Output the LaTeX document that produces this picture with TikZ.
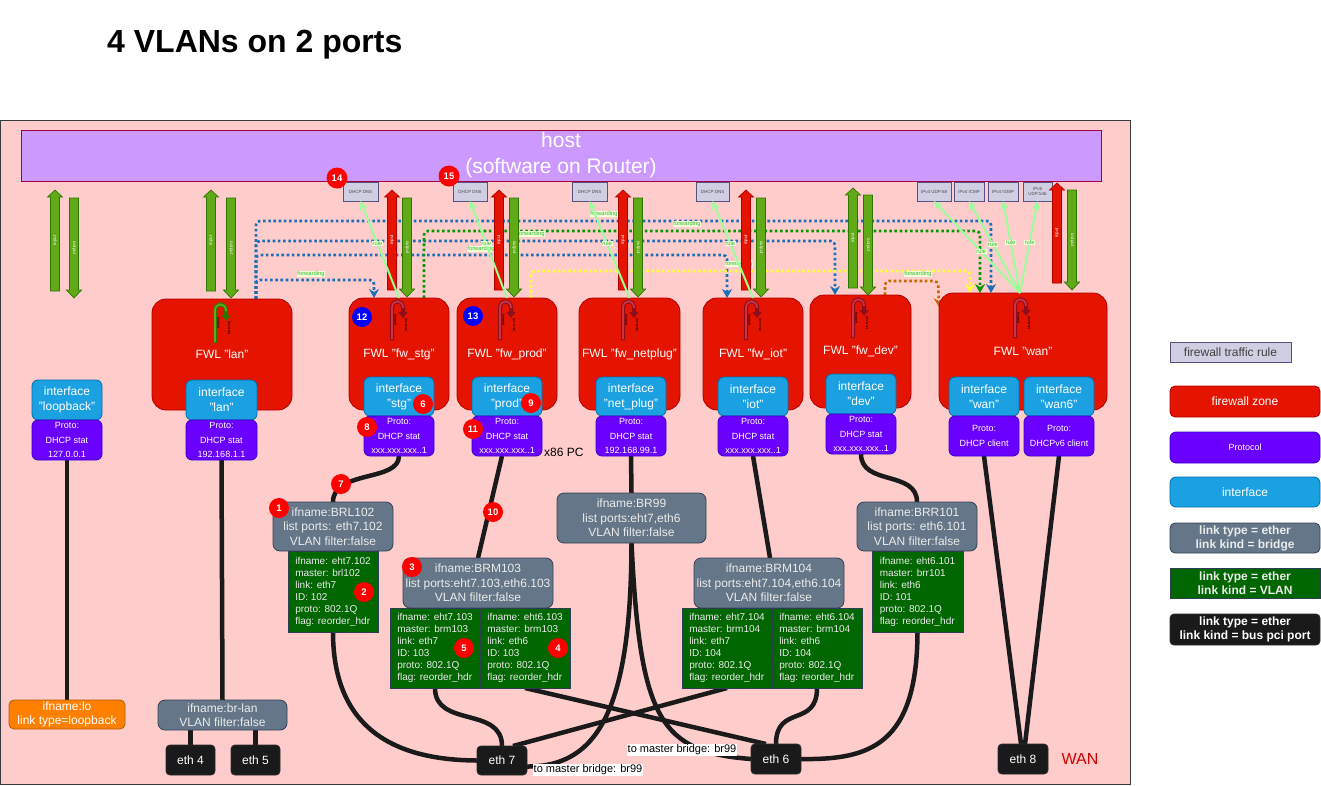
\documentclass[tikz,border=0pt]{standalone}
\usepackage{fontspec}
\setmainfont{Liberation Sans}
\usetikzlibrary{arrows.meta}
\pgfdeclarelayer{back}
\pgfdeclarelayer{bg}
\pgfsetlayers{back,bg,main}
\definecolor{bgpink}{HTML}{FFCCCC}
\definecolor{bgdraw}{HTML}{36393D}
\definecolor{hostfill}{HTML}{CC99FF}
\definecolor{hostdraw}{HTML}{A50040}
\definecolor{zonefill}{HTML}{E51400}
\definecolor{zonedraw}{HTML}{B20000}
\definecolor{iffill}{HTML}{1BA1E2}
\definecolor{ifdraw}{HTML}{006EAF}
\definecolor{prfill}{HTML}{6A00FF}
\definecolor{prdraw}{HTML}{3700CC}
\definecolor{brfill}{HTML}{647687}
\definecolor{brdraw}{HTML}{314354}
\definecolor{vlfill}{HTML}{006600}
\definecolor{vldraw}{HTML}{2D3E50}
\definecolor{ptfill}{HTML}{1A1A1A}
\definecolor{ptdraw}{HTML}{2B2B2B}
\definecolor{lofill}{HTML}{FF8000}
\definecolor{lodraw}{HTML}{B35900}
\definecolor{rbfill}{HTML}{D0CEE2}
\definecolor{rbdraw}{HTML}{56517E}
\definecolor{rbtext}{HTML}{4D4D4D}
\definecolor{badgered}{HTML}{FF0000}
\definecolor{badgeblue}{HTML}{0000FF}
\definecolor{lblfill}{HTML}{F2FFD9}
\definecolor{lbltext}{HTML}{33B833}
\definecolor{connblk}{HTML}{1A1A1A}
\definecolor{dblue}{HTML}{1A6FB5}
\definecolor{dgreen}{HTML}{009900}
\definecolor{dyellow}{HTML}{FFFF33}
\definecolor{dorange}{HTML}{CC6600}
\definecolor{rulegreen}{HTML}{99FF99}
\definecolor{gfill}{HTML}{60A917}
\definecolor{gdraw}{HTML}{2D7600}
\definecolor{rfill}{HTML}{E51400}
\definecolor{rdraw}{HTML}{B20000}
\definecolor{wanred}{HTML}{CC0000}
\definecolor{loopout}{HTML}{8C0F1F}
\definecolor{loopin}{HTML}{CC3345}
\tikzset{
 bx/.style={draw, line width=0.8pt, inner sep=0pt, outer sep=0pt, align=center, text=white},
 zone/.style={bx, fill=zonefill, draw=zonedraw, rounded corners=14pt, font=\fontsize{12}{14}\selectfont},
 iface/.style={bx, fill=iffill, draw=ifdraw, rounded corners=6pt, font=\fontsize{12}{15}\selectfont},
 proto/.style={bx, fill=prfill, draw=prdraw, rounded corners=6pt, font=\fontsize{9}{14.5}\selectfont},
 bridge/.style={bx, fill=brfill, draw=brdraw, rounded corners=7pt, text=white!92!black, font=\fontsize{12}{14.5}\selectfont},
 vlan/.style={bx, align=left, fill=vlfill, draw=vldraw, text=white!92!black, font=\fontsize{10}{12}\selectfont},
 port/.style={bx, fill=ptfill, draw=ptdraw, rounded corners=4pt, font=\fontsize{12}{14}\selectfont},
 loopb/.style={bx, fill=lofill, draw=lodraw, rounded corners=5pt, font=\fontsize{12}{15}\selectfont},
 hostbox/.style={bx, fill=hostfill, draw=hostdraw, font=\fontsize{21}{26}\selectfont},
 rulebox/.style={bx, fill=rbfill, draw=rbdraw, line width=1pt, text=rbtext, font=\fontsize{4.5}{5}\selectfont},
 badge/.style={circle, fill=badgered, text=white, inner sep=0pt, minimum size=21pt, font=\bfseries\fontsize{9.5}{10}\selectfont},
 bbadge/.style={badge, fill=badgeblue, minimum size=20pt},
 flabel/.style={fill=lblfill, text=lbltext, inner sep=0.6pt, font=\fontsize{5.8}{6}\selectfont},
 iolbl/.style={text=white, inner sep=0pt, font=\fontsize{4.5}{5}\selectfont},
 conn/.style={line width=4.5pt, draw=connblk},
 dotl/.style={line width=2.6pt, dash pattern=on 2.6pt off 2.6pt, rounded corners=4pt, -{Stealth[length=9pt,width=10pt,inset=3pt]}},
 ruleln/.style={line width=2pt, draw=rulegreen, -{Stealth[length=9pt,width=8pt]}},
 mblabel/.style={fill=white, text=black, inner sep=0.5pt, font=\fontsize{11}{12}\selectfont},
 looptxt/.style={text=black, inner sep=0pt, font=\fontsize{3.5}{4}\selectfont},
}
\newcommand\mkbox[7]{\node[#1, minimum width={#5-#3}, minimum height={#6-#4}] (#2) at ({(#3+#5)/2},{(#4+#6)/2}) {#7};}
\newcommand\blkup[6]{\draw[fill=#4, draw=#5, line width=0.7pt] ({#1-4.5},#3) -- ({#1-4.5},{#2+7}) -- ({#1-7.5},{#2+7}) -- (#1,#2) -- ({#1+7.5},{#2+7}) -- ({#1+4.5},{#2+7}) -- ({#1+4.5},#3) -- cycle;
 \node[iolbl, rotate=90] (#6) at (#1,{(#2+#3)/2}) {input};}
\newcommand\blkdn[6]{\draw[fill=#4, draw=#5, line width=0.7pt] ({#1-4.5},#2) -- ({#1-4.5},{#3-8}) -- ({#1-7.5},{#3-8}) -- (#1,#3) -- ({#1+7.5},{#3-8}) -- ({#1+4.5},{#3-8}) -- ({#1+4.5},#2) -- cycle;
 \node[iolbl, rotate=-90] (#6) at (#1,{(#2+#3)/2}) {output};}
\newcommand\fwdloop[5]{%
 \draw[line width=4pt, draw=#3, -{Triangle[length=6pt,width=9pt]}] ({#1-6},{#2+42}) -- ({#1-6},{#2+10}) .. controls ({#1-6},{#2+1}) and ({#1+5},{#2+1}) .. ({#1+5},{#2+10}) -- ({#1+5},{#2+20});
 \draw[line width=1.8pt, draw=#4] ({#1-6},{#2+41}) -- ({#1-6},{#2+10}) .. controls ({#1-6},{#2+1}) and ({#1+5},{#2+1}) .. ({#1+5},{#2+10});
 \node[looptxt, rotate=-90] (#5f) at ({#1-2.5},{#2+22}) {forward};
 \node[looptxt, rotate=-90] (#5r) at ({#1+8},{#2+27}) {(reverse)};}
\begin{document}
\begin{tikzpicture}[x=1pt,y=-1pt]
\useasboundingbox (0,0) rectangle (1321,785);
\begin{pgfonlayer}{back}
\fill[white] (0,0) rectangle (1321,785);
\draw[fill=bgpink, draw=bgdraw, line width=1pt] (0.5,120.5) rectangle (1130.5,784.5);
\end{pgfonlayer}

% title and host
\node[anchor=west, inner sep=0pt, font=\bfseries\fontsize{32}{38}\selectfont] (title) at (107,45) {4 VLANs on 2 ports};
\mkbox{hostbox}{host}{21}{130}{1101}{181}{host\\(software on Router)}

% zones
\mkbox{zone}{zlan}{152}{299}{292}{410}{FWL "lan"}
\mkbox{zone}{zstg}{349}{298}{449}{410}{FWL "fw\_stg"}
\mkbox{zone}{zprod}{457}{298}{557}{410}{FWL "fw\_prod"}
\mkbox{zone}{znet}{579}{298}{680}{410}{FWL "fw\_netplug"}
\mkbox{zone}{ziot}{703}{298}{803}{410}{FWL "fw\_iot"}
\mkbox{zone}{zdev}{810}{295}{911}{408}{FWL "fw\_dev"}
\mkbox{zone}{zwan}{939}{293}{1107}{410}{FWL "wan"}

% rule boxes
\mkbox{rulebox}{rb1}{343}{182}{378}{201}{DHCP DNS}
\mkbox{rulebox}{rb2}{453}{182}{487}{201}{DHCP DNS}
\mkbox{rulebox}{rb3}{572}{182}{607}{201}{DHCP DNS}
\mkbox{rulebox}{rb4}{696}{182}{729}{201}{DHCP DNS}
\mkbox{rulebox}{rb5}{917}{182}{951}{201}{IPv4 UDP:68}
\mkbox{rulebox}{rb6}{954}{182}{984}{201}{IPv4 ICMP}
\mkbox{rulebox}{rb7}{988}{182}{1018}{201}{IPv4 IGMP}
\mkbox{rulebox}{rb8}{1023}{182}{1052}{201}{IPv6\\UDP:546}

% input / output block arrows
\blkup{55}{190}{291}{gfill}{gdraw}{inlo}
\blkdn{74}{198}{298}{gfill}{gdraw}{outlo}
\blkup{211}{190}{291}{gfill}{gdraw}{inlan}
\blkdn{231}{198}{298}{gfill}{gdraw}{outlan}
\blkup{392}{190}{290}{rfill}{rdraw}{instg}
\blkdn{407}{198}{297}{gfill}{gdraw}{outstg}
\blkup{499}{190}{290}{rfill}{rdraw}{inprod}
\blkdn{514}{198}{297}{gfill}{gdraw}{outprod}
\blkup{623}{190}{290}{rfill}{rdraw}{innet}
\blkdn{638}{198}{297}{gfill}{gdraw}{outnet}
\blkup{746}{190}{290}{rfill}{rdraw}{iniot}
\blkdn{761}{198}{297}{gfill}{gdraw}{outiot}
\blkup{853}{188}{288}{gfill}{gdraw}{indev}
\blkdn{868}{195}{295}{gfill}{gdraw}{outdev}
\blkup{1057}{183}{283}{rfill}{rdraw}{inwan}
\blkdn{1072}{190}{290}{gfill}{gdraw}{outwan}

% rule lines
\draw[ruleln] (zstg.north) -- node[flabel, pos=0.56] (rl1) {rule} (rb1.south);
\draw[ruleln] (zprod.north) -- node[flabel, pos=0.56] (rl2) {rule} (rb2.south);
\draw[ruleln] (znet.north) -- node[flabel, pos=0.56] (rl3) {rule} (rb3.south);
\draw[ruleln] (ziot.north) -- node[flabel, pos=0.56] (rl4) {rule} (rb4.south);
\draw[ruleln] ([xshift=-3pt]zwan.north) -- node[flabel, pos=0.45] (rl5) {rule} (rb5.south);
\draw[ruleln] ([xshift=-3pt]zwan.north) -- node[flabel, pos=0.53] (rl6) {rule} (rb6.south);
\draw[ruleln] ([xshift=-3pt]zwan.north) -- node[flabel, pos=0.55] (rl7) {rule} (rb7.south);
\draw[ruleln] ([xshift=-3pt]zwan.north) -- node[flabel, pos=0.55] (rl8) {rule} (rb8.south);

% forward loops
\fwdloop{221}{301}{gdraw}{gfill}{lplan}
\fwdloop{398}{298}{loopout}{loopin}{lpstg}
\fwdloop{506}{298}{loopout}{loopin}{lpprod}
\fwdloop{629}{298}{loopout}{loopin}{lpnet}
\fwdloop{752}{298}{loopout}{loopin}{lpiot}
\fwdloop{859}{296}{loopout}{loopin}{lpdev}
\fwdloop{1021}{296}{loopout}{loopin}{lpwan}

% interfaces
\mkbox{iface}{iflo}{32}{380}{102}{420}{interface\\"loopback"}
\mkbox{iface}{iflan}{186}{380}{257}{420}{interface\\"lan"}
\mkbox{iface}{ifstg}{364}{377}{434}{416}{interface\\"stg"}
\mkbox{iface}{ifprod}{472}{377}{542}{416}{interface\\"prod"}
\mkbox{iface}{ifnet}{596}{377}{666}{416}{interface\\"net\_plug"}
\mkbox{iface}{ifiot}{718}{377}{788}{416}{interface\\"iot"}
\mkbox{iface}{ifdev}{826}{374}{896}{414}{interface\\"dev"}
\mkbox{iface}{ifwan}{949}{377}{1019}{416}{interface\\"wan"}
\mkbox{iface}{ifwan6}{1024}{377}{1094}{416}{interface\\"wan6"}

% protocols
\mkbox{proto}{plo}{32}{420}{102}{460}{Proto:\\DHCP stat\\127.0.0.1}
\mkbox{proto}{plan}{186}{420}{257}{460}{Proto:\\DHCP stat\\192.168.1.1}
\mkbox{proto}{pstg}{364}{416}{434}{456}{Proto:\\DHCP stat\\xxx.xxx.xxx..1}
\mkbox{proto}{pprod}{472}{416}{542}{456}{Proto:\\DHCP stat\\xxx.xxx.xxx..1}
\mkbox{proto}{pnet}{596}{416}{666}{456}{Proto:\\DHCP stat\\192.168.99.1}
\mkbox{proto}{piot}{718}{416}{788}{456}{Proto:\\DHCP stat\\xxx.xxx.xxx..1}
\mkbox{proto}{pdev}{826}{414}{896}{454}{Proto:\\DHCP stat\\xxx.xxx.xxx..1}
\mkbox{proto, font=\fontsize{9}{15}\selectfont}{pwan}{949}{416}{1019}{456}{Proto:\\DHCP client}
\mkbox{proto, font=\fontsize{9}{15}\selectfont}{pwan6}{1024}{416}{1094}{456}{Proto:\\DHCPv6 client}

% bridges
\mkbox{bridge}{brl102}{273}{502}{393}{551}{ifname:BRL102\\list ports: eth7.102\\VLAN filter:false}
\mkbox{bridge}{brm103}{403}{558}{553}{608}{ifname:BRM103\\list ports:eht7.103,eth6.103\\VLAN filter:false}
\mkbox{bridge}{br99}{557}{493}{706}{543}{ifname:BR99\\list ports:eht7,eth6\\VLAN filter:false}
\mkbox{bridge}{brm104}{694}{558}{844}{608}{ifname:BRM104\\list ports:eht7.104,eth6.104\\VLAN filter:false}
\mkbox{bridge}{brr101}{857}{502}{977}{551}{ifname:BRR101\\list ports: eth6.101\\VLAN filter:false}
\mkbox{bridge, font=\fontsize{12}{14}\selectfont}{brlan}{158}{700}{287}{730}{ifname:br-lan\\VLAN filter:false}
\mkbox{loopb, font=\fontsize{12}{14}\selectfont}{lo}{9}{700}{125}{729}{ifname:lo\\link type=loopback}

% vlans
\mkbox{vlan}{vl102}{288}{551}{378}{632}{ifname: eht7.102\\master: brl102\\link: eth7\\ID: 102\\proto: 802.1Q\\flag: reorder\_hdr}
\mkbox{vlan}{vl103a}{390}{608}{480}{688}{ifname: eht7.103\\master: brm103\\link: eth7\\ID: 103\\proto: 802.1Q\\flag: reorder\_hdr}
\mkbox{vlan}{vl103b}{480}{608}{570}{688}{ifname: eht6.103\\master: brm103\\link: eth6\\ID: 103\\proto: 802.1Q\\flag: reorder\_hdr}
\mkbox{vlan}{vl104a}{682}{608}{772}{688}{ifname: eht7.104\\master: brm104\\link: eth7\\ID: 104\\proto: 802.1Q\\flag: reorder\_hdr}
\mkbox{vlan}{vl104b}{772}{608}{862}{688}{ifname: eht6.104\\master: brm104\\link: eth6\\ID: 104\\proto: 802.1Q\\flag: reorder\_hdr}
\mkbox{vlan}{vl101}{872}{551}{963}{632}{ifname: eht6.101\\master: brr101\\link: eth6\\ID: 101\\proto: 802.1Q\\flag: reorder\_hdr}

% ports
\mkbox{port}{eth4}{166}{745}{215}{775}{eth 4}
\mkbox{port}{eth5}{231}{745}{280}{775}{eth 5}
\mkbox{port}{eth7}{477}{746}{527}{775}{eth 7}
\mkbox{port}{eth6}{751}{744}{801}{774}{eth 6}
\mkbox{port}{eth8}{998}{744}{1048}{774}{eth 8}

% texts
\node[anchor=west, inner sep=0pt, font=\fontsize{12}{14}\selectfont] (x86) at (544,452) {x86 PC};
\node[text=wanred, inner sep=0pt, font=\fontsize{16}{18}\selectfont] (wanlbl) at (1080,759) {WAN};
\node[mblabel] (mb1) at (682,750) {to master bridge: br99};
\node[mblabel] (mb2) at (588,770) {to master bridge: br99};

% badges
\node[badge] (b14) at (337,178) {14};
\node[badge] (b15) at (449,176) {15};
\node[bbadge] (b12) at (362,317) {12};
\node[bbadge] (b13) at (473,316) {13};
\node[badge, minimum size=20pt] (b6) at (423,404) {6};
\node[badge, minimum size=20pt] (b9) at (531,403) {9};
\node[badge, minimum size=20pt] (b8) at (367,427) {8};
\node[badge, minimum size=20pt] (b11) at (473,429) {11};
\node[badge, minimum size=20pt] (b7) at (341,484) {7};
\node[badge, minimum size=20pt] (b10) at (493,512) {10};
\node[badge, minimum size=20pt] (b1) at (279,508) {1};
\node[badge, minimum size=20pt] (b2) at (364,592) {2};
\node[badge, minimum size=20pt] (b3) at (412,567) {3};
\node[badge, minimum size=20pt] (b5) at (464,648) {5};
\node[badge, minimum size=20pt] (b4) at (558,648) {4};

% legend
\mkbox{rulebox, line width=0.8pt, text=black!75, font=\fontsize{12}{14}\selectfont}{lg1}{1170}{342}{1291}{362}{firewall traffic rule}
\mkbox{zone, rounded corners=5pt}{lg2}{1170}{386}{1320}{417}{firewall zone}
\mkbox{proto}{lg3}{1170}{432}{1320}{463}{Protocol}
\mkbox{iface}{lg4}{1170}{477}{1320}{507}{interface}
\mkbox{bridge, rounded corners=5pt, font=\bfseries\fontsize{12}{14}\selectfont}{lg5}{1170}{523}{1320}{553}{link type = ether\\link kind = bridge}
\mkbox{vlan, align=center, font=\bfseries\fontsize{12}{14}\selectfont}{lg6}{1170}{568}{1320}{598}{link type = ether\\link kind = VLAN}
\mkbox{port, font=\bfseries\fontsize{12}{14}\selectfont}{lg7}{1170}{614}{1320}{645}{link type = ether\\link kind = bus pci port}

\begin{pgfonlayer}{bg}
% forwarding (dotted) lines
\draw[dotl, draw=dblue] ([xshift=34pt]zlan.north) -- (256,221) -- (991,221) -- ([xshift=-32pt]zwan.north);
\draw[dotl, draw=dblue] ([xshift=34pt]zlan.north) -- (256,241) -- (835,241) -- ([xshift=-25.5pt]zdev.north);
\draw[dotl, draw=dblue] ([xshift=34pt]zlan.north) -- (256,255) -- (727,255) -- ([xshift=-26pt]ziot.north);
\draw[dotl, draw=dblue] ([xshift=34pt]zlan.north) -- (256,280) -- (374,280) -- ([xshift=-25pt]zstg.north);
\draw[dotl, draw=dgreen] ([xshift=25pt]zstg.north) -- (424,231) -- (980,231) -- ([xshift=-43pt]zwan.north);
\draw[dotl, draw=dyellow] ([xshift=24pt]zprod.north) -- (531,271) -- (970,271) -- ([xshift=-53pt]zwan.north);
\draw[dotl, draw=dorange] ([xshift=24.5pt]zdev.north) -- (885,281) -- (938,281) -- ([yshift=-14pt]zwan.north west);
\node[flabel] (fl1) at (311,274) {forwarding};
\node[flabel] (fl2) at (531,234) {forwarding};
\node[flabel] (fl3) at (481,249) {forwarding};
\node[flabel] (fl4) at (604,214) {forwarding};
\node[flabel] (fl5) at (687,224) {forwarding};
\node[flabel] (fl6) at (739,264) {forwarding};
\node[flabel] (fl7) at (918,274) {forwarding};
% links
\draw[conn] (plo.south) -- (lo.north);
\draw[conn] (plan.south) -- (brlan.north);
\draw[conn] (brlan.south -| eth4.north) -- (eth4.north);
\draw[conn] (brlan.south -| eth5.north) -- (eth5.north);
\draw[conn] (pstg.south) .. controls (399,482) and (333,470) .. (brl102.north);
\draw[conn] ([xshift=-5pt]pprod.south) -- (brm103.north);
\draw[conn] (pnet.south) -- (br99.north);
\draw[conn] (piot.south) -- ([xshift=1pt]brm104.north);
\draw[conn] (pdev.south) .. controls (861,486) and (917,470) .. (brr101.north);
\draw[conn] (pwan.south) -- ([xshift=-2pt]eth8.north);
\draw[conn] (pwan6.south) -- ([xshift=2pt]eth8.north);
\draw[conn] (vl102.south) .. controls (333,740) and (410,760) .. (eth7.west);
\draw[conn] (vl103a.south) .. controls (435,728) and (502,706) .. (eth7.north);
\draw[conn] (vl103b.south) -- ([xshift=-10pt]eth6.north);
\draw[conn] (vl104a.south) -- ([xshift=11pt]eth7.north);
\draw[conn] (vl104b.south) .. controls (817,728) and (776,704) .. (eth6.north);
\draw[conn] (vl101.south) .. controls (917,745) and (870,760) .. (eth6.east);
\draw[conn] (br99.south) .. controls (631,705) and (600,767) .. ([yshift=-6pt]eth7.east);
\draw[conn] (br99.south) .. controls (640,720) and (660,752) .. (eth6.west);
\end{pgfonlayer}
\end{tikzpicture}
\end{document}
